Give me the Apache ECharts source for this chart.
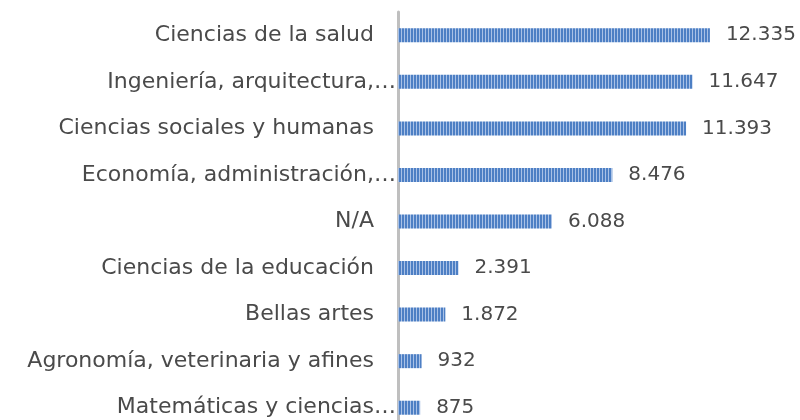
<!DOCTYPE html>
<html><head><meta charset="utf-8">
<script src="https://cdn.jsdelivr.net/npm/echarts@6/dist/echarts.min.js"></script>
<style>html,body{margin:0;padding:0;background:#fff}#c{width:800px;height:420px}</style>
</head><body><div id="c"></div>
<script>
const categories = ["Ciencias de la salud","Ingeniería, arquitectura,…","Ciencias sociales y humanas","Economía, administración,…","N/A","Ciencias de la educación","Bellas artes","Agronomía, veterinaria y afines","Matemáticas y ciencias…"];
const values = [12335, 11647, 11393, 8476, 6088, 2391, 1872, 932, 875];
const truncated = [false, true, false, true, false, false, false, false, true];

const pc = document.createElement('canvas');
pc.width = 3; pc.height = 4;
const g = pc.getContext('2d');
g.fillStyle = '#4d7fc4'; g.fillRect(0,0,3,4);
g.fillStyle = '#a9c1e6'; g.fillRect(2,0,1,4);

const FONT = '"DejaVu Sans"';
const chart = echarts.init(document.getElementById('c'), null, {renderer:'canvas'});
chart.setOption({
  animation:false,
  grid:{left:398, top:12, width:354, height:419, containLabel:false, outerBoundsMode:'none'},
  xAxis:{type:'value', min:0, max:14000, show:false},
  yAxis:{type:'category', data:categories, inverse:true,
    axisLine:{show:true, lineStyle:{color:'#bfbfbf', width:3}},
    axisTick:{show:false},
    axisLabel:{margin:2, fontFamily:FONT, fontSize:22, color:'#4a4a4a',
      formatter:(v,i)=> truncated[i] ? '{a|'+v+'}' : '{a|'+v+'}{g|}',
      rich:{a:{fontFamily:FONT, fontSize:22, color:'#4a4a4a'}, g:{width:22}}}
  },
  series:[{type:'bar', data:values, barWidth:14,
    itemStyle:{color:{image:pc, repeat:'repeat'}},
    label:{show:true, position:'right', distance:16, fontFamily:FONT, fontSize:20, color:'#4a4a4a',
      formatter:p=>p.value.toLocaleString('de-DE')}
  }]
});
</script></body></html>
